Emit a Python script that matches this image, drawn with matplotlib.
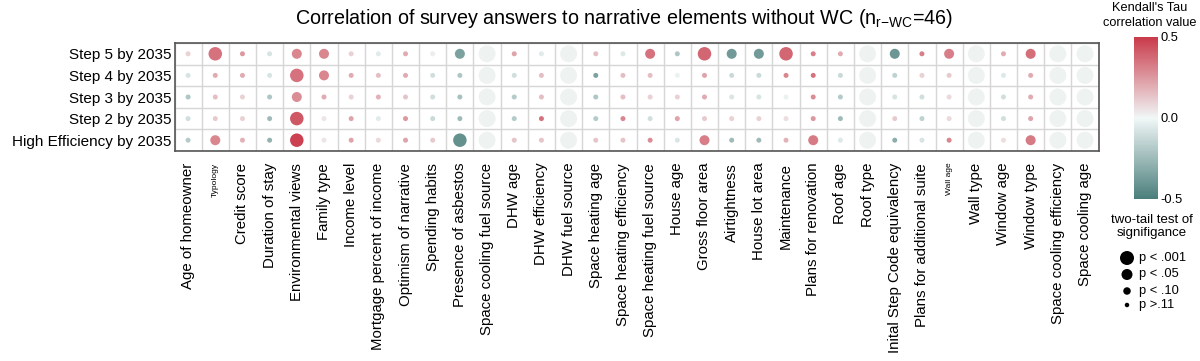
import numpy as np
import matplotlib
matplotlib.use("Agg")
import matplotlib.pyplot as plt
from matplotlib.colors import LinearSegmentedColormap, Normalize
from matplotlib.cm import ScalarMappable

plt.rcParams['font.family'] = ['Liberation Sans', 'DejaVu Sans']
plt.rcParams['mathtext.default'] = 'regular'

nan = np.nan
columns = ["Age of homeowner", "Typology", "Credit score", "Duration of stay",
           "Environmental views", "Family type", "Income level",
           "Mortgage percent of income", "Optimism of narrative", "Spending habits",
           "Presence of asbestos", "Space cooling fuel source", "DHW age",
           "DHW efficiency", "DHW fuel source", "Space heating age",
           "Space heating efficiency", "Space heating fuel source", "House age",
           "Gross floor area", "Airtightness", "House lot area", "Maintenance",
           "Plans for renovation", "Roof age", "Roof type",
           "Inital Step Code equivalency", "Plans for additional suite", "Wall age",
           "Wall type", "Window age", "Window type", "Space cooling efficiency",
           "Space cooling age"]
small_label_columns = ["Typology", "Wall age"]

rows = ["Step 5 by 2035", "Step 4 by 2035", "Step 3 by 2035", "Step 2 by 2035",
        "High Efficiency by 2035"]

# Kendall's tau (NaN = not computable)
tau_step5 = [0.10, 0.35, 0.25, -0.08, 0.30, 0.30, 0.10, -0.05, 0.20, 0.03, -0.35, nan,
             0.22, -0.05, nan, 0.15, -0.06, 0.35, -0.20, 0.38, -0.38, -0.38, 0.38,
             0.32, 0.20, nan, -0.40, 0.32, 0.32, nan, 0.20, 0.36, nan, nan]
tau_step4 = [-0.08, 0.20, 0.20, -0.08, 0.35, 0.30, 0.20, 0.15, 0.20, -0.10, -0.20, nan,
             -0.10, 0.15, nan, -0.35, 0.15, 0.15, -0.02, 0.22, -0.12, -0.12, 0.30,
             0.35, -0.12, nan, -0.15, 0.10, 0.12, nan, -0.06, 0.20, nan, nan]
tau_step3 = [-0.20, 0.15, 0.10, -0.20, 0.28, 0.20, 0.10, 0.18, 0.13, -0.10, -0.22, nan,
             -0.18, 0.15, nan, -0.20, 0.15, 0.10, 0.10, 0.20, -0.07, -0.08, -0.02,
             0.28, -0.18, nan, -0.08, -0.10, 0.08, nan, -0.10, 0.20, nan, nan]
tau_step2 = [-0.10, 0.12, 0.10, -0.25, 0.42, 0.05, 0.22, -0.05, 0.25, -0.12, -0.25, nan,
             -0.18, 0.35, nan, -0.18, 0.30, -0.10, 0.22, 0.12, 0.10, 0.10, 0.07,
             0.25, -0.25, nan, 0.12, -0.15, 0.08, nan, -0.10, 0.22, nan, nan]
tau_he = [-0.18, 0.30, 0.18, -0.28, 0.48, 0.05, 0.22, 0.08, 0.22, 0.12, -0.42, nan,
          0.13, 0.13, nan, 0.13, 0.13, 0.28, -0.07, 0.32, -0.25, -0.25, 0.18,
          0.33, -0.06, nan, -0.30, -0.08, 0.30, nan, 0.07, 0.33, nan, nan]

# significance level: 0 p>.11, 1 p<.10, 2 p<.05, 3 p<.001
sig_step5 = [0, 3, 0, 0, 2, 2, 0, 0, 0, 0, 2, 0, 0, 0, 0, 0, 0, 2, 0, 3, 2, 2, 3,
             0, 0, 0, 2, 0, 2, 0, 0, 2, 0, 0]
sig_step4 = [0, 0, 0, 0, 3, 2, 0, 0, 0, 0, 0, 0, 0, 0, 0, 0, 0, 0, 0, 0, 0, 0, 0,
             0, 0, 0, 0, 0, 0, 0, 0, 0, 0, 0]
sig_step3 = [0, 0, 0, 0, 2, 0, 0, 0, 0, 0, 0, 0, 0, 0, 0, 0, 0, 0, 0, 0, 0, 0, 0,
             0, 0, 0, 0, 0, 0, 0, 0, 0, 0, 0]
sig_step2 = [0, 0, 0, 0, 3, 0, 0, 0, 0, 0, 0, 0, 0, 0, 0, 0, 0, 0, 0, 0, 0, 0, 0,
             0, 0, 0, 0, 0, 0, 0, 0, 0, 0, 0]
sig_he = [0, 2, 0, 0, 3, 0, 0, 0, 0, 0, 3, 0, 0, 0, 0, 0, 0, 0, 0, 2, 0, 0, 0,
          2, 0, 0, 0, 0, 0, 0, 0, 2, 0, 0]

legend_labels = ["p < .001", "p < .05", "p < .10", "p >.11"]
legend_levels = [3, 2, 1, 0]

tau = np.array([tau_step5, tau_step4, tau_step3, tau_step2, tau_he])
sig = np.array([sig_step5, sig_step4, sig_step3, sig_step2, sig_he])

# ---- styling ----
PX = 0.72  # points per pixel at dpi 100
diam_px = {0: 5.0, 1: 7.5, 2: 10.0, 3: 13.5}
legend_diam_px = {0: 4.5, 1: 7.5, 2: 11.0, 3: 14.0}
na_diam_px = 17.0
cmap = LinearSegmentedColormap.from_list("tau", ["#4a7e7b", "#f1f7f7", "#c93a4a"])
norm = Normalize(vmin=-0.5, vmax=0.5)

fig = plt.figure(figsize=(12, 3.61), dpi=100)
W, H = 1200, 361
L, R, T, B = 174.5, 1098.6, 43, 151
ax = fig.add_axes([L / W, 1 - B / H, (R - L) / W, (B - T) / H])

ncol = len(columns)
nrow = len(rows)
for i in range(nrow):
    xs = np.arange(ncol)
    ys = np.full(ncol, i)
    valid = ~np.isnan(tau[i])
    sizes = np.array([(diam_px[l] * PX) ** 2 for l in sig[i]])
    ax.scatter(xs[~valid], ys[~valid], s=(na_diam_px * PX) ** 2, color="#eef2f1",
               edgecolors="none", zorder=3)
    ax.scatter(xs[valid], ys[valid], s=sizes[valid], c=tau[i][valid], cmap=cmap,
               norm=norm, edgecolors="none", zorder=3)

ax.set_xlim(-0.5, ncol - 0.5)
ax.set_ylim(nrow - 0.5, -0.5)
ax.set_xticks(np.arange(ncol))
ax.set_xticklabels(columns, rotation=90, fontsize=10.8)
for lbl in ax.get_xticklabels():
    if lbl.get_text() in small_label_columns:
        lbl.set_fontsize(6)
ax.set_yticks(np.arange(nrow))
ax.set_yticklabels(rows, fontsize=11)
ax.set_xticks(np.arange(-0.5, ncol, 1), minor=True)
ax.set_yticks(np.arange(-0.5, nrow, 1), minor=True)
ax.grid(which="minor", color="#d6d6d6", lw=1.0, zorder=0)
ax.grid(which="major", visible=False)
ax.tick_params(which="both", length=0)
ax.tick_params(axis="x", pad=8.5)
ax.tick_params(axis="y", pad=2)
for sp in ax.spines.values():
    sp.set_color("#555555")
    sp.set_linewidth(1.2)

fig.text(624 / W, 1 - 18 / H,
         r"Correlation of survey answers to narrative elements without WC (n$_{r{-}WC}$=46)",
         ha="center", va="center", fontsize=14.2)

# colorbar
cax = fig.add_axes([1134 / W, 1 - 199 / H, 24 / W, 162 / H])
cb = fig.colorbar(ScalarMappable(norm=norm, cmap=cmap), cax=cax)
cb.outline.set_visible(False)
cb.set_ticks([-0.5, 0.0, 0.5])
cb.set_ticklabels(["-0.5", "0.0", "0.5"])
cax.tick_params(length=0, labelsize=9.3, pad=2)
fig.text(1150 / W, 1 - 15.5 / H, "Kendall's Tau\ncorrelation value", ha="center",
         va="center", fontsize=9.2, linespacing=1.25)

# significance legend
lax = fig.add_axes([1100 / W, 1 - 320 / H, 100 / W, 120 / H])
lax.set_xlim(1100, 1200)
lax.set_ylim(320, 200)
lax.axis("off")
lax.text(1152, 226.5, "two-tail test of\nsignifigance", ha="center", va="center",
         fontsize=9.5, linespacing=1.2)
leg_y = [258, 274.5, 291, 305]
for lvl, lab, yy in zip(legend_levels, legend_labels, leg_y):
    lax.scatter([1127], [yy], s=(legend_diam_px[lvl] * PX) ** 2, color="black",
                edgecolors="none", clip_on=False)
    lax.text(1139, yy, lab, ha="left", va="center", fontsize=9.3)

fig.savefig("out.png", dpi=100)
